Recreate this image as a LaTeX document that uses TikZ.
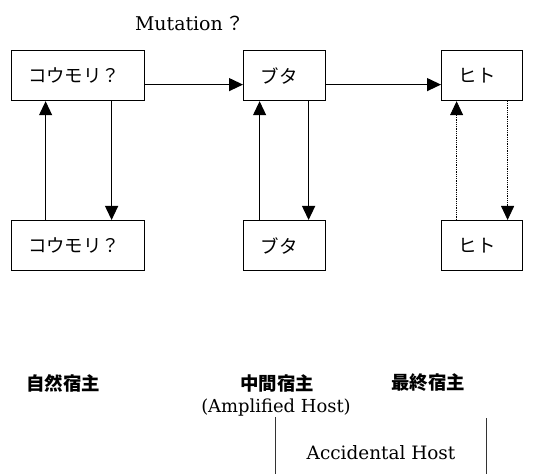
\documentclass[tikz,border=0pt]{standalone}
\usepackage{fontspec}
\setmainfont{DejaVu Serif}
\newfontfamily\jp{Noto Sans CJK JP}
\usetikzlibrary{arrows.meta}
\tikzset{
  hostbox/.style={draw, line width=1.2bp, minimum height=50bp, inner xsep=17bp,
    align=left, font=\jp\fontsize{18.5}{21}\selectfont, anchor=north west},
  arr/.style={line width=1.2bp, -{Triangle[width=13bp,length=14bp]}},
  dotarr/.style={line width=0.8bp, densely dotted, -{Triangle[width=13bp,length=14bp]}},
  roman/.style={font=\fontsize{18.5}{21}\selectfont, inner sep=0pt},
  jplabel/.style={font=\jp\bfseries\fontsize{18.5}{21}\selectfont, inner sep=0pt},
  thin/.style={line width=0.7bp, black!80}
}
\begin{document}
\begin{tikzpicture}[x=1bp,y=-1bp]
\useasboundingbox (0,0) rectangle (542,474);
% top row
\node[hostbox, text width=99bp] (A1) at (11,50) {コウモリ？};
\node[hostbox, text width=48bp] (B1) at (243,50) {ブタ};
\node[hostbox, text width=47bp] (C1) at (441,50) {ヒト};
% bottom row
\node[hostbox, text width=99bp] (A2) at (11,220) {コウモリ？};
\node[hostbox, text width=48bp] (B2) at (243,220) {ブタ};
\node[hostbox, text width=47bp] (C2) at (441,220) {ヒト};
% mutation label
\node[roman, font=\fontsize{19}{22}\selectfont] (mut) at (190,23) {Mutation\,{\jp ？}};
% horizontal arrows
\draw[arr] ([yshift=-9bp]A1.east) -- ([yshift=-9bp]B1.west);
\draw[arr] ([yshift=-9bp]B1.east) -- ([yshift=-9bp]C1.west);
% vertical arrows
\draw[arr] ([xshift=-32.5bp]A2.north) -- ([xshift=-32.5bp]A1.south);
\draw[arr] ([xshift=33.5bp]A1.south) -- ([xshift=33.5bp]A2.north);
\draw[arr] ([xshift=-25bp]B2.north) -- ([xshift=-25bp]B1.south);
\draw[arr] ([xshift=24bp]B1.south) -- ([xshift=24bp]B2.north);
\draw[dotarr] ([xshift=-25.5bp]C2.north) -- ([xshift=-25.5bp]C1.south);
\draw[dotarr] ([xshift=25.5bp]C1.south) -- ([xshift=25.5bp]C2.north);
% host labels
\node[jplabel] (nat) at (63,383) {自然宿主};
\node[jplabel] (mid) at (277,383) {中間宿主};
\node[jplabel] (fin) at (428,383) {最終宿主};
\node[roman, font=\fontsize{18}{21}\selectfont] (amp) at (276,408) {(Amplified Host)};
\node[roman] (acc) at (381,453) {Accidental Host};
\coordinate (bot) at (0,474);
\coordinate (rtop) at (486,418);
\draw[thin] (amp.south -| 275,0) -- (bot -| 275,0);
\draw[thin] (rtop) -- (rtop |- bot);
\end{tikzpicture}
\end{document}
